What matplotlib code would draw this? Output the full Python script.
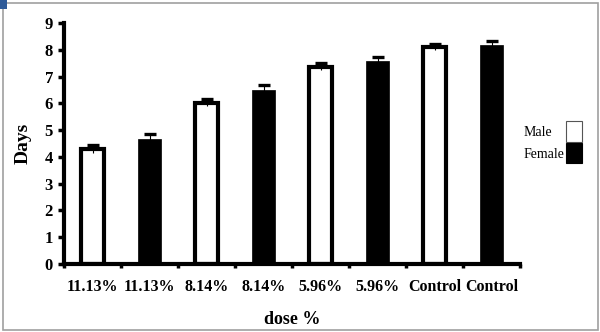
import matplotlib.pyplot as plt
from matplotlib.patches import Rectangle

# bar values (days)
doses = ['11.13%', '11.13%', '8.14%', '8.14%', '5.96%', '5.96%', 'Control', 'Control']
sexes = ['Male', 'Female', 'Male', 'Female', 'Male', 'Female', 'Male', 'Female']
days = [4.3, 4.67, 6.03, 6.51, 7.37, 7.59, 8.11, 8.18]
err = [0.14, 0.17, 0.13, 0.16, 0.13, 0.15, 0.12, 0.16]

plt.rcParams['font.family'] = ['Liberation Serif', 'DejaVu Serif']

fig = plt.figure(figsize=(6, 3.32), dpi=100)
ax = fig.add_axes([64 / 600, 68 / 332, 456 / 600, 241 / 332])

x = list(range(len(days)))
for i in x:
    if sexes[i] == 'Male':
        ax.bar(i, days[i], width=0.4, color='white', edgecolor='black', linewidth=3, zorder=2)
    else:
        ax.bar(i, days[i], width=0.4, color='black', edgecolor='black', linewidth=0.5, zorder=2)

eb = ax.errorbar(x, days, yerr=err, fmt='none', ecolor='black', elinewidth=0.8,
                 capsize=4.5, capthick=2.4, zorder=3)
eb[1][0].set_visible(False)  # only the upper cap is drawn
eb[1][1].set_color('#3d2352')

ax.set_xlim(-0.5, len(days) - 0.5)
ax.set_ylim(0, 9)
ax.set_yticks(range(10))
ax.set_xticks([i - 0.5 for i in range(len(days) + 1)])
ax.set_xticklabels([])
ax.set_xticks(x, minor=True)
ax.set_xticklabels(doses, minor=True, fontsize=11.5, fontweight='bold')
ax.tick_params(axis='x', which='minor', length=0, pad=11)
ax.tick_params(axis='x', which='major', direction='out', length=3, width=2.5)
ax.tick_params(axis='y', direction='out', length=4, width=2.5, labelsize=12, pad=4)
for lab in ax.get_yticklabels():
    lab.set_fontweight('bold')

for side in ['top', 'right']:
    ax.spines[side].set_visible(False)
for side in ['left', 'bottom']:
    ax.spines[side].set_linewidth(3)

ax.set_ylabel('Days', fontsize=14, fontweight='bold', labelpad=9)
ax.set_xlabel('dose %', fontsize=13, fontweight='bold', labelpad=11)

# legend drawn in figure pixels to match the boxes beside the labels
fig.text(524 / 600, 1 - 132 / 332, 'Male', fontsize=10, va='center', ha='left')
fig.text(524 / 600, 1 - 154 / 332, 'Female', fontsize=10, va='center', ha='left')
fig.patches.append(Rectangle((566 / 600, 1 - 142 / 332), 16 / 600, 21 / 332,
                             transform=fig.transFigure, facecolor='white',
                             edgecolor='#555555', linewidth=0.8))
fig.patches.append(Rectangle((566 / 600, 1 - 163 / 332), 16 / 600, 20 / 332,
                             transform=fig.transFigure, facecolor='black',
                             edgecolor='black', linewidth=0.8))

# frame around the picture and the small corner mark
fig.patches.append(Rectangle((2.5 / 600, 2.5 / 332), 595 / 600, 327 / 332,
                             transform=fig.transFigure, fill=False,
                             edgecolor='#a0a0a0', linewidth=1.2))
fig.patches.append(Rectangle((0, 1 - 9 / 332), 7 / 600, 9 / 332,
                             transform=fig.transFigure, facecolor='#2f5b98',
                             edgecolor='none'))

fig.savefig('out.png', dpi=100)
